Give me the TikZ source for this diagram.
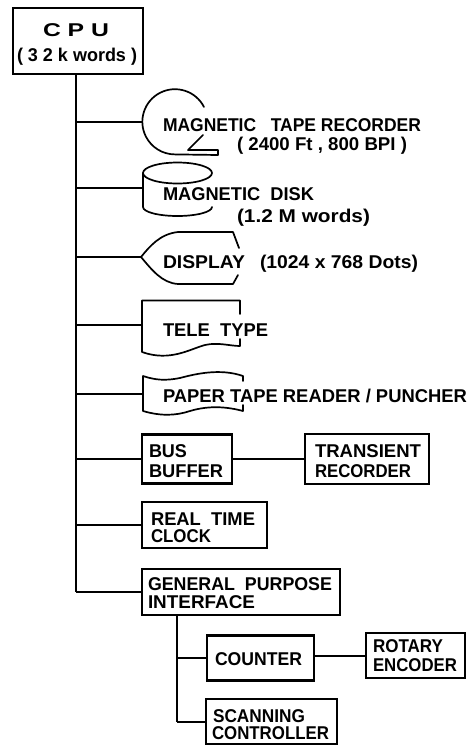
\documentclass[tikz,border=0pt]{standalone}
\usepackage{fontspec}
\usepackage{graphicx}
\setmainfont{Liberation Sans}
\tikzset{
  x=1pt,y=-1pt,
  ink/.style={line width=2.1pt,black,line join=miter},
  box/.style={draw,ink,rectangle,inner sep=0pt,outer sep=0pt},
  trunk/.style={line width=2.4pt,black},
  wire/.style={line width=2pt,black},
  shapeline/.style={line width=1.7pt,black,line cap=round,line join=round},
  lab/.style={inner sep=0pt,outer sep=0pt,anchor=base west,font=\fontsize{18.5}{18.5}\selectfont\bfseries}
}
\newcommand{\lbl}[5]{\node[lab] (#1) at (#2,#3) {\resizebox{#4pt}{\height}{#5}};}
\newcommand{\bx}[5]{\node[box,minimum width=#4pt,minimum height=#5pt] (#1) at (#2,#3) {};}
\begin{document}
\begin{tikzpicture}
\useasboundingbox (0,0) rectangle (467,745);
% boxes
\bx{cpu}{78}{41}{130}{66}
\bx{bus}{187}{459}{90}{49}
\bx{transient}{367}{459}{124}{50}
\bx{rtc}{204.5}{525}{125}{46}
\bx{gpi}{241}{592}{198}{46}
\bx{counter}{260.5}{658}{107}{45}
\bx{rotary}{415.5}{655.5}{99}{45}
\bx{scanning}{271.5}{721.5}{131}{45}
% peripheral symbols, each with a named attachment point
\coordinate (tapeL) at (142,122);
\draw[shapeline] (204,107) arc[start angle=27,end angle=270,radius=32.6pt]
   -- (218,155) -- (218,150) -- (188,150) -- (203,135);
\coordinate (diskL) at (143,188);
\draw[shapeline] (177.5,173) ellipse[x radius=34.5pt,y radius=10.5pt];
\draw[shapeline] (143,173) -- (143,207) arc[start angle=180,end angle=360,x radius=34.5pt,y radius=9pt];
\coordinate (dispL) at (141,257);
\draw[shapeline] (239,248) -- (233,232) -- (178,232) .. controls (160,234) and (150,246) .. (dispL)
   .. controls (152,270) and (162,283) .. (178,284) -- (233,284) -- (238,275);
\coordinate (teleL) at (142,325);
\draw[shapeline] (240,314) -- (240,300.5) -- (142,300.5) -- (142,352)
   .. controls (170,362) and (190,349) .. (205,345) .. controls (218,342) and (230,346) .. (240,346) -- (240,339);
\coordinate (paperL) at (143,394);
\draw[shapeline] (243,381) -- (243,376) .. controls (220,368) and (195,374) .. (180,378)
   .. controls (165,381) and (155,380) .. (143,376) -- (143,411)
   .. controls (160,416) and (175,416) .. (190,411) .. controls (210,405) and (228,407) .. (243,411) -- (243,405);
% trunks
\coordinate (tt) at (76,74);
\coordinate (tb) at (76,592);
\draw[trunk] (tt) -- (tb);
\coordinate (st) at (177,615);
\coordinate (sb) at (177,721.5);
\draw[trunk] (st) -- (sb);
% branches
\draw[wire] (tapeL) -- (tapeL -| tt);
\draw[wire] (diskL) -- (diskL -| tt);
\draw[wire] (dispL) -- (dispL -| tt);
\draw[wire] (teleL) -- (teleL -| tt);
\draw[wire] (paperL) -- (paperL -| tt);
\draw[wire] (bus.west) -- (bus.west -| tt);
\draw[wire] (bus.east) -- (transient.west);
\draw[wire] (rtc.west) -- (rtc.west -| tt);
\draw[wire] (gpi.west) -- (gpi.west -| tt);
\draw[wire] (counter.west) -- (counter.west -| st);
\draw[wire] (rotary.west) -- (rotary.west -| counter.east);
\draw[wire] (scanning.west) -- (scanning.west -| st);
% texts
\lbl{t1}{43}{36}{66}{C P U}
\lbl{t2}{17}{61}{120}{( 3 2 k words )}
\lbl{t3}{163}{131}{258}{MAGNETIC\ \ \ TAPE RECORDER}
\lbl{t4}{237}{150}{170}{( 2400 Ft , 800 BPI )}
\lbl{t5}{163}{200}{151}{MAGNETIC\ \ DISK}
\lbl{t6}{237}{222}{133}{(1.2 M words)}
\lbl{t7}{163}{268}{82}{DISPLAY}
\lbl{t8}{260}{268}{158}{(1024 x 768 Dots)}
\lbl{t9}{163}{336}{105}{TELE\ \ TYPE}
\lbl{t10}{163}{402}{304}{PAPER TAPE READER / PUNCHER}
\lbl{t11}{149}{457}{38}{BUS}
\lbl{t12}{149}{477}{74}{BUFFER}
\lbl{t13}{315}{457}{106}{TRANSIENT}
\lbl{t14}{315}{477}{96}{RECORDER}
\lbl{t15}{151}{525}{104}{REAL\ \ TIME}
\lbl{t16}{151}{542}{60}{CLOCK}
\lbl{t17}{148}{590}{184}{GENERAL\ \ PURPOSE}
\lbl{t18}{148}{608}{107}{INTERFACE}
\lbl{t19}{215}{665}{87}{COUNTER}
\lbl{t20}{373}{652}{70}{ROTARY}
\lbl{t21}{373}{671}{84}{ENCODER}
\lbl{t22}{213}{722}{92}{SCANNING}
\lbl{t23}{212}{739}{117}{CONTROLLER}
\end{tikzpicture}
\end{document}
